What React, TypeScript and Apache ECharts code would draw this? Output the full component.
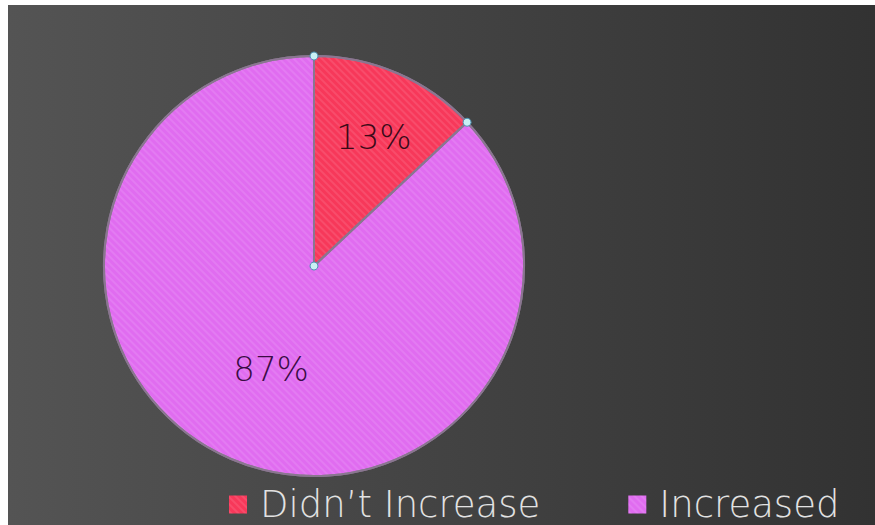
import React, { useEffect, useRef } from "react";
import * as echarts from "echarts";

const categories = ["Didn\u2019t Increase", "Increased"];
const values = [13, 87];
const colors = ["#f7385a", "#e06cf0"];
const labelColors = ["#3a0a18", "#3a0c44"];

export default function App() {
  const ref = useRef<HTMLDivElement>(null);
  useEffect(() => {
    if (!ref.current) return;
    const chart = echarts.init(ref.current, undefined, { renderer: "svg" });
    const cx = 306;
    const cy = 261;
    const R = 210;
    const total = values.reduce((a, b) => a + b, 0);
    const handles: any[] = [];
    let acc = 0;
    values.forEach((v) => {
      const a = (acc / total) * Math.PI * 2;
      handles.push({
        type: "circle",
        shape: { cx: cx + R * Math.sin(a), cy: cy - R * Math.cos(a), r: 4 },
        style: { fill: "#c8f0f4", stroke: "#4a8fb0", lineWidth: 1 },
        z: 100,
      });
      acc += v;
    });
    handles.push({
      type: "circle",
      shape: { cx, cy, r: 4 },
      style: { fill: "#c8f0f4", stroke: "#4a8fb0", lineWidth: 1 },
      z: 100,
    });
    chart.setOption({
      animation: false,
      backgroundColor: new echarts.graphic.LinearGradient(0, 0, 1, 0, [
        { offset: 0, color: "#545454" },
        { offset: 1, color: "#323232" },
      ]),
      legend: {
        left: 216,
        top: 476,
        itemWidth: 18,
        itemHeight: 18,
        itemGap: 88,
        icon: "rect",
        itemStyle: { borderWidth: 0 },
        textStyle: {
          color: "#e2e2e2",
          fontSize: 37,
          fontFamily: "DejaVu Sans",
          fontWeight: 200,
          padding: [0, 0, 0, 8],
        },
        data: categories,
      },
      graphic: handles,
      series: [
        {
          type: "pie",
          center: [cx, cy],
          radius: [0, R],
          startAngle: 90,
          clockwise: true,
          label: {
            show: true,
            position: "inside",
            formatter: "{c}%",
            fontSize: 34,
            fontFamily: "DejaVu Sans",
            fontWeight: 200,
          },
          labelLine: { show: false },
          itemStyle: {
            borderColor: "#8a7690",
            borderWidth: 2,
          },
          data: categories.map((name, i) => ({
            name,
            value: values[i],
            itemStyle: {
              color: colors[i],
              decal: {
                symbol: "rect",
                dashArrayX: [1, 0],
                dashArrayY: [2, 3],
                rotation: Math.PI / 4,
                color: "rgba(255,255,255,0.10)",
              },
            },
            label: {
              color: labelColors[i],
              offset: i === 0 ? [17, -30] : [0, 4],
            },
          })),
        },
      ],
    });
    return () => chart.dispose();
  }, []);
  return (
    <div
      ref={ref}
      style={{ position: "fixed", left: 8, top: 5, width: 867, height: 520 }}
    />
  );
}
